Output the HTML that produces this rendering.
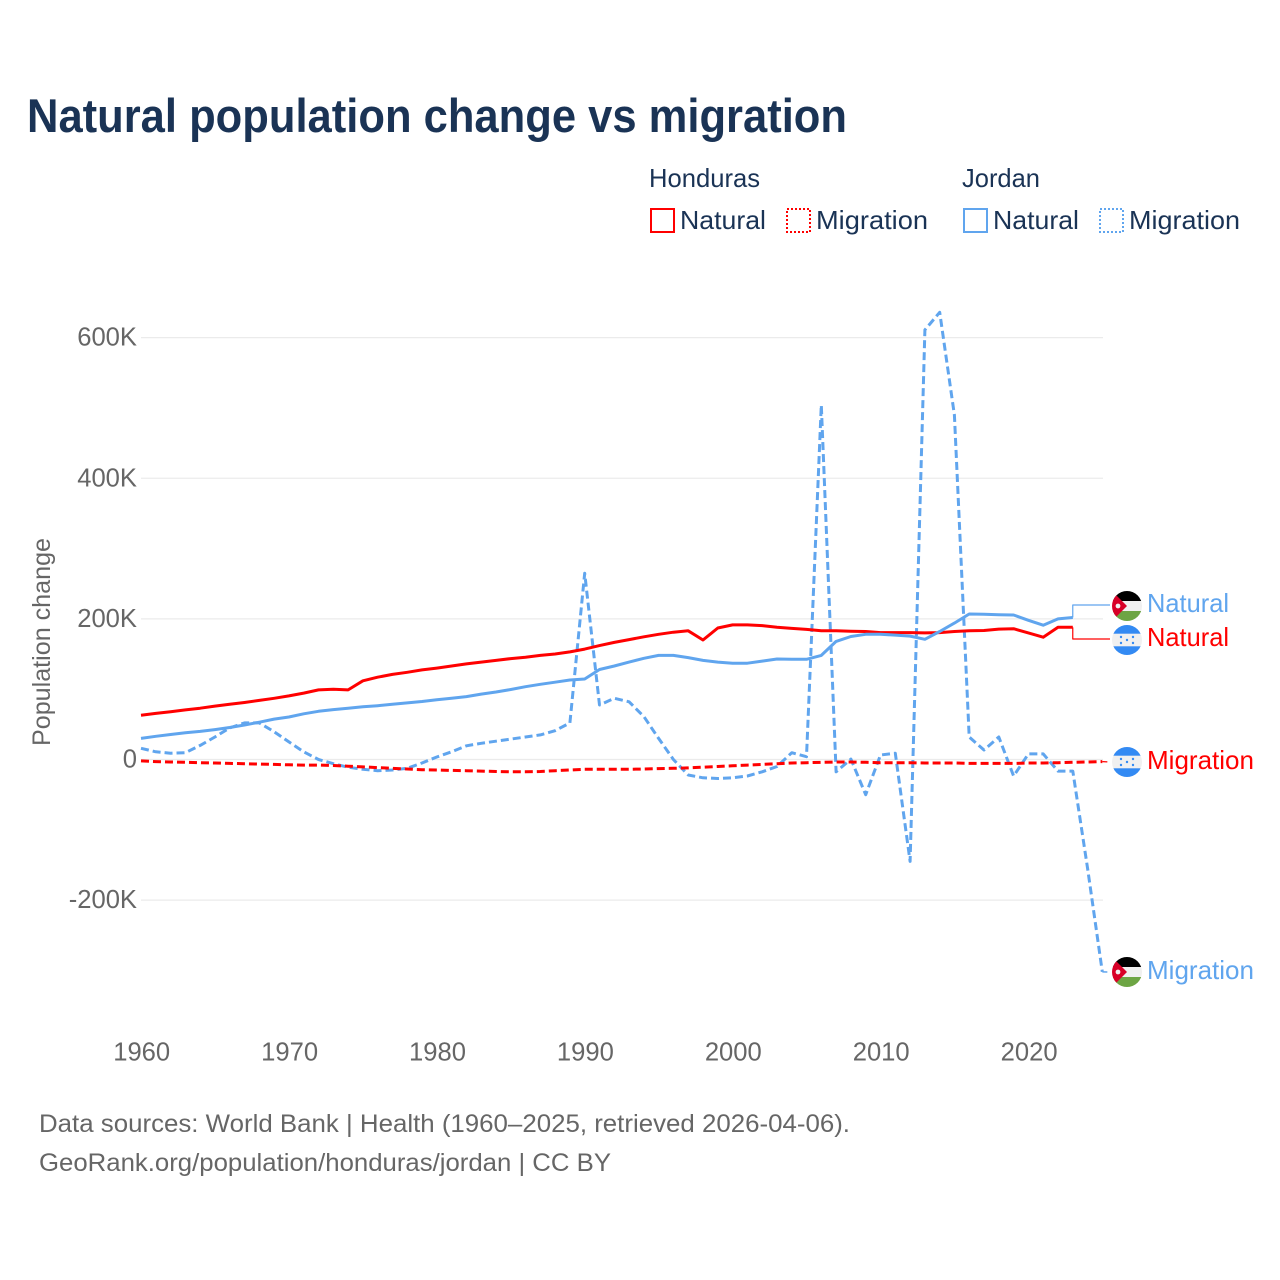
<!DOCTYPE html>
<html lang="en">
<head>
<meta charset="utf-8">
<title>Natural population change vs migration</title>
<style>
html,body{margin:0;padding:0;background:#fff;width:1280px;height:1280px;overflow:hidden}
svg{display:block}
text{font-family:"Liberation Sans",sans-serif}
</style>
</head>
<body>
<svg id="chart" xmlns="http://www.w3.org/2000/svg" width="1280" height="1280" viewBox="0 0 1280 1280">
  <defs>
    <clipPath id="flag-clip"><circle cx="0" cy="0" r="15"/></clipPath>
    <g id="flag-jordan">
      <g clip-path="url(#flag-clip)">
        <rect x="-15" y="-15" width="30" height="30" fill="#f0f0f0"/>
        <rect x="-15" y="-15" width="30" height="10" fill="#000"/>
        <rect x="-15" y="5" width="30" height="10" fill="#6da544"/>
        <polygon points="-15,-15 0,0 -15,15" fill="#d80027"/>
        <circle cx="-9" cy="0" r="2.4" fill="#f0f0f0"/>
      </g>
    </g>
    <g id="flag-honduras">
      <g clip-path="url(#flag-clip)">
        <rect x="-15" y="-15" width="30" height="30" fill="#f0f0f0"/>
        <rect x="-15" y="-15" width="30" height="8.7" fill="#338af3"/>
        <rect x="-15" y="6.3" width="30" height="8.7" fill="#338af3"/>
        <g fill="#338af3">
          <circle cx="0" cy="0" r="1.2"/><circle cx="-6" cy="-3" r="1.2"/><circle cx="6" cy="-3" r="1.2"/><circle cx="-6" cy="3" r="1.2"/><circle cx="6" cy="3" r="1.2"/>
        </g>
      </g>
    </g>
  </defs>

  <text x="27" y="132" font-size="47" font-weight="700" fill="#1a3355" textLength="820" lengthAdjust="spacingAndGlyphs">Natural population change vs migration</text>

  <g font-size="26" fill="#1a3355">
    <text x="649" y="187" textLength="111" lengthAdjust="spacingAndGlyphs">Honduras</text>
    <text x="962" y="187" textLength="78" lengthAdjust="spacingAndGlyphs">Jordan</text>
    <rect x="651" y="209" width="23" height="23" fill="none" stroke="#ff0000" stroke-width="2"/>
    <text x="680" y="229" textLength="86" lengthAdjust="spacingAndGlyphs">Natural</text>
    <rect x="787" y="209" width="23" height="23" fill="none" stroke="#ff0000" stroke-width="2" stroke-dasharray="2 2"/>
    <text x="816" y="229" textLength="112" lengthAdjust="spacingAndGlyphs">Migration</text>
    <rect x="964" y="209" width="23" height="23" fill="none" stroke="#60a5ee" stroke-width="2"/>
    <text x="993" y="229" textLength="86" lengthAdjust="spacingAndGlyphs">Natural</text>
    <rect x="1100" y="209" width="23" height="23" fill="none" stroke="#60a5ee" stroke-width="2" stroke-dasharray="2 2"/>
    <text x="1129" y="229" textLength="111" lengthAdjust="spacingAndGlyphs">Migration</text>
  </g>

  <text transform="translate(50,642) rotate(-90)" text-anchor="middle" font-size="25" fill="#666666" textLength="208" lengthAdjust="spacingAndGlyphs">Population change</text>

  <g id="grid"></g>
  <g id="y-labels"></g>
  <g id="x-labels"></g>
  <g id="series"></g>

  <use href="#flag-jordan" x="1127" y="606"/>
  <use href="#flag-honduras" x="1127" y="640"/>
  <use href="#flag-honduras" x="1127" y="762"/>
  <use href="#flag-jordan" x="1127" y="972"/>

  <g font-size="26">
    <text x="1147" y="612" fill="#60a5ee" textLength="82" lengthAdjust="spacingAndGlyphs">Natural</text>
    <text x="1147" y="646" fill="#ff0000" textLength="82" lengthAdjust="spacingAndGlyphs">Natural</text>
    <text x="1147" y="769" fill="#ff0000" textLength="107" lengthAdjust="spacingAndGlyphs">Migration</text>
    <text x="1147" y="979" fill="#60a5ee" textLength="107" lengthAdjust="spacingAndGlyphs">Migration</text>
  </g>

  <g font-size="25" fill="#666666">
    <text x="39" y="1132" textLength="811" lengthAdjust="spacingAndGlyphs">Data sources: World Bank | Health (1960–2025, retrieved 2026-04-06).</text>
    <text x="39" y="1171" textLength="572" lengthAdjust="spacingAndGlyphs">GeoRank.org/population/honduras/jordan | CC BY</text>
  </g>
</svg>

<script>
const firstYear = 1960;
const yTicks = [600, 400, 200, 0, -200];
const yTickLabels = ['600K', '400K', '200K', '0', '-200K'];
const xTicks = [1960, 1970, 1980, 1990, 2000, 2010, 2020];
const xTickLabels = ['1960', '1970', '1980', '1990', '2000', '2010', '2020'];

const hondurasNatural = [63,65.5,68,70.5,73,76,78.5,81,84,87,90.5,94.5,99,100,99,112,117,121,124,127.5,130,133,136,138.5,141,143.5,145.5,148,150,153,157,162,166.5,170.5,174.5,178,181,183,170,187,191.5,191.5,190.5,188,186.5,185,183,183,182.5,182,180.5,180.5,180.5,180,180.5,182,183,183.5,185.5,186,180,174,188,188];
const jordanNatural = [30,33,35.5,38,40,42.5,45.5,49,53,57.5,60.5,65,68.5,71,73,75,76.5,78.5,80.5,82.5,85,87,89.5,93,96,99.5,103.5,107,110,113,114.5,128,133,138.5,144,148,148,145,141,138.5,137,137,140,143,142.5,142.5,148,168,175,178,178,177,175.5,171,182,194,207,206.5,206,205.5,198,191,200,202];
const hondurasMigration = [-2,-3,-3.5,-4,-4.5,-5,-5.5,-6,-6.5,-7,-7.5,-8,-8,-8.5,-9.5,-10.5,-11.5,-12.5,-13.5,-14.5,-15,-15.5,-16,-16.5,-17,-17.5,-17.5,-17,-16,-15,-14,-14,-14,-14,-13.5,-13,-12.5,-12,-11,-10,-9,-8,-7,-6,-5,-4.5,-4,-3.5,-3.5,-4,-4.5,-4.5,-4.5,-5,-5,-5,-5.5,-5.5,-5.5,-5.5,-5,-5,-4.5,-4,-3.5,-3];
const jordanMigration = [16,11,9,9.7,20,32,45,52,52,39.5,25,11,0,-6,-11,-14,-16,-15,-12.5,-5,3.5,11,19.5,23,26,29,32,35,41,52,265,77.5,87,82,61,30,0,-22,-26,-27,-26,-23.5,-17.5,-10,9.7,4,504,-17.5,0.5,-50,6.4,9,-145,611,636,490,32,13.5,32,-23.5,8,8,-16.5,-16.5,-155,-302];

function xScale(year) { return 141 + (year - firstYear) * 14.79; }
function yScale(v) { return 759.5 - v * 0.7031; }
function points(values) {
  return values.map(function (v, i) { return xScale(firstYear + i).toFixed(1) + ',' + yScale(v).toFixed(1); }).join(' ');
}
const NS = 'http://www.w3.org/2000/svg';

const grid = document.getElementById('grid');
const yLabels = document.getElementById('y-labels');
yTicks.forEach(function (t, i) {
  const l = document.createElementNS(NS, 'line');
  
  
  l.setAttribute('x1', 141);
  l.setAttribute('x2', 1103);
  l.setAttribute('y1', yScale(t));
  l.setAttribute('y2', yScale(t));
  l.setAttribute('stroke', '#ebebeb');
  l.setAttribute('stroke-width', 1.2);
  grid.appendChild(l);
  const s = document.createElementNS(NS, 'text');
  
  
  s.setAttribute('x', 137);
  s.setAttribute('y', yScale(t) + 8);
  s.setAttribute('text-anchor', 'end');
  s.setAttribute('font-size', 25.6);
  s.setAttribute('fill', '#666666');
  s.textContent = yTickLabels[i];
  yLabels.appendChild(s);
});

const xLabels = document.getElementById('x-labels');
xTicks.forEach(function (t, i) {
  const s = document.createElementNS(NS, 'text');
  
  
  s.setAttribute('x', xScale(t) + 0.7);
  s.setAttribute('y', 1060.5);
  s.setAttribute('text-anchor', 'middle');
  s.setAttribute('font-size', 25.6);
  s.setAttribute('fill', '#666666');
  s.textContent = xTickLabels[i];
  xLabels.appendChild(s);
});

const seriesGroup = document.getElementById('series');
function addLine(name, pts, color, width, dash) {
  const p = document.createElementNS(NS, 'polyline');
  
  
  p.setAttribute('points', pts);
  p.setAttribute('fill', 'none');
  p.setAttribute('stroke', color);
  p.setAttribute('stroke-width', width);
  p.setAttribute('stroke-linejoin', 'round');
  if (dash) p.setAttribute('stroke-dasharray', dash);
  seriesGroup.appendChild(p);
}
const blue = '#60a5ee';
const red = '#ff0000';
addLine('line-jordan-migration', points(jordanMigration), blue, 3, '8 4');
addLine('line-honduras-migration', points(hondurasMigration), red, 3, '8 4');
addLine('line-honduras-natural', points(hondurasNatural), red, 3);
addLine('line-jordan-natural', points(jordanNatural), blue, 3);

const lastHN = hondurasNatural[hondurasNatural.length - 1];
const lastJN = jordanNatural[jordanNatural.length - 1];
const lastHM = hondurasMigration[hondurasMigration.length - 1];
const lastJM = jordanMigration[jordanMigration.length - 1];
const xHN = xScale(firstYear + hondurasNatural.length - 1);
const xJN = xScale(firstYear + jordanNatural.length - 1);
const xMig = xScale(firstYear + jordanMigration.length - 1);
addLine('connector-jordan-natural', xJN + ',' + yScale(lastJN) + ' ' + xJN + ',605 1110,605', blue, 1.2);
addLine('connector-honduras-natural', xHN + ',' + yScale(lastHN) + ' ' + xHN + ',639 1110,639', red, 1.2);
addLine('connector-honduras-migration', xMig + ',' + yScale(lastHM) + ' 1110,762', red, 1.2, '5 3');
addLine('connector-jordan-migration', xMig + ',' + yScale(lastJM) + ' 1110,972', blue, 1.5, '5 3');
</script>
</body>
</html>
